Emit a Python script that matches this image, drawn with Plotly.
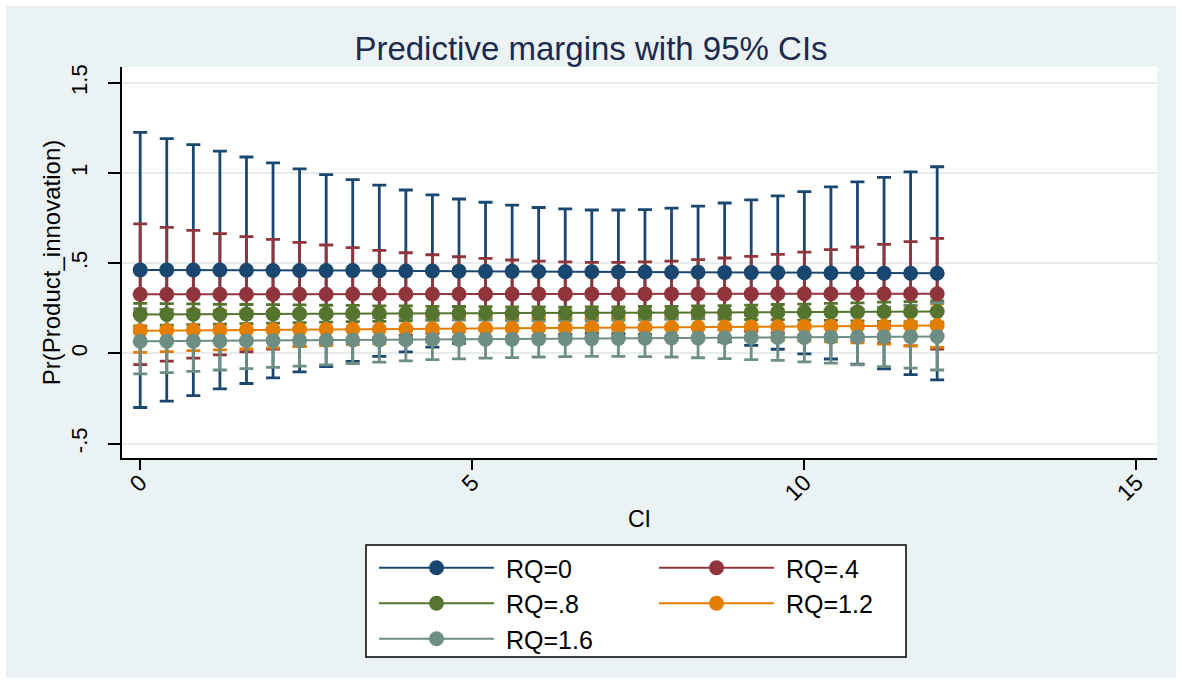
import plotly.graph_objects as go

# ---------------- data ----------------
ci = [0.0, 0.4, 0.8, 1.2, 1.6, 2.0, 2.4, 2.8, 3.2, 3.6, 4.0, 4.4, 4.8, 5.2, 5.6, 6.0,
      6.4, 6.8, 7.2, 7.6, 8.0, 8.4, 8.8, 9.2, 9.6, 10.0, 10.4, 10.8, 11.2, 11.6, 12.0]

series_names = ["RQ=0", "RQ=.4", "RQ=.8", "RQ=1.2", "RQ=1.6"]

margin_rq0 = [0.463, 0.463, 0.462, 0.462, 0.461, 0.460, 0.460, 0.459, 0.459, 0.458,
              0.457, 0.457, 0.456, 0.455, 0.455, 0.454, 0.453, 0.453, 0.452, 0.451,
              0.450, 0.450, 0.449, 0.448, 0.448, 0.447, 0.446, 0.446, 0.445, 0.444, 0.444]
upper_rq0 = [1.226, 1.191, 1.158, 1.121, 1.089, 1.056, 1.023, 0.991, 0.963, 0.933,
             0.906, 0.879, 0.856, 0.838, 0.822, 0.809, 0.801, 0.795, 0.795, 0.797,
             0.806, 0.817, 0.834, 0.851, 0.873, 0.897, 0.923, 0.951, 0.976, 1.006, 1.035]

margin_rq04 = [0.328, 0.328, 0.328, 0.328, 0.328, 0.328, 0.328, 0.328, 0.329, 0.329,
               0.329, 0.329, 0.329, 0.329, 0.329, 0.330, 0.330, 0.330, 0.330, 0.330,
               0.330, 0.330, 0.330, 0.330, 0.331, 0.331, 0.331, 0.331, 0.331, 0.331, 0.331]
upper_rq04 = [0.718, 0.699, 0.682, 0.664, 0.647, 0.632, 0.616, 0.601, 0.586, 0.571,
              0.558, 0.547, 0.536, 0.527, 0.518, 0.512, 0.507, 0.505, 0.505, 0.507,
              0.512, 0.520, 0.529, 0.538, 0.549, 0.562, 0.575, 0.590, 0.605, 0.620, 0.638]

margin_rq08 = [0.215, 0.216, 0.217, 0.217, 0.218, 0.219, 0.220, 0.220, 0.221, 0.221,
               0.222, 0.222, 0.223, 0.223, 0.223, 0.224, 0.224, 0.225, 0.225, 0.226,
               0.226, 0.227, 0.227, 0.228, 0.229, 0.229, 0.230, 0.230, 0.231, 0.231, 0.232]
upper_rq08 = [0.277, 0.276, 0.275, 0.272, 0.271, 0.270, 0.269, 0.267, 0.266, 0.264,
              0.263, 0.261, 0.260, 0.259, 0.258, 0.258, 0.257, 0.258, 0.258, 0.260,
              0.261, 0.263, 0.265, 0.268, 0.271, 0.273, 0.277, 0.280, 0.284, 0.287, 0.291]

margin_rq12 = [0.126, 0.127, 0.128, 0.129, 0.130, 0.131, 0.132, 0.133, 0.134, 0.134,
               0.135, 0.136, 0.137, 0.138, 0.139, 0.140, 0.141, 0.142, 0.143, 0.143,
               0.144, 0.145, 0.146, 0.147, 0.148, 0.149, 0.150, 0.151, 0.152, 0.153, 0.154]
upper_rq12 = [0.246, 0.244, 0.241, 0.238, 0.235, 0.231, 0.227, 0.223, 0.219, 0.214,
              0.210, 0.207, 0.204, 0.201, 0.199, 0.198, 0.198, 0.199, 0.201, 0.203,
              0.206, 0.210, 0.214, 0.219, 0.224, 0.229, 0.236, 0.244, 0.253, 0.264, 0.275]

margin_rq16 = [0.067, 0.068, 0.068, 0.069, 0.070, 0.071, 0.072, 0.073, 0.074, 0.075,
               0.076, 0.077, 0.078, 0.079, 0.079, 0.080, 0.081, 0.082, 0.083, 0.084,
               0.085, 0.086, 0.087, 0.088, 0.089, 0.089, 0.090, 0.091, 0.092, 0.093, 0.094]
upper_rq16 = [0.248, 0.243, 0.236, 0.230, 0.224, 0.220, 0.215, 0.210, 0.204, 0.198,
              0.193, 0.189, 0.186, 0.184, 0.181, 0.180, 0.180, 0.181, 0.183, 0.186,
              0.190, 0.196, 0.203, 0.210, 0.217, 0.225, 0.234, 0.245, 0.257, 0.268, 0.280]

x_ticks = [0, 5, 10, 15]
y_ticks = [-0.5, 0, 0.5, 1, 1.5]
y_ticktext = ["-.5", "0", ".5", "1", "1.5"]

margins = [margin_rq0, margin_rq04, margin_rq08, margin_rq12, margin_rq16]
uppers = [upper_rq0, upper_rq04, upper_rq08, upper_rq12, upper_rq16]
colors = ["#1A476F", "#90353B", "#55752F", "#E37E00", "#6E8E84"]
legend_ref = ["legend", "legend2", "legend", "legend2", "legend"]

FONT = "Liberation Sans, Arial, sans-serif"
BG = "#EAF2F3"

# ---------------- geometry (px) ----------------
W, H = 1182, 684
L, R, T, B = 122, 25, 67, 226
PW, PH = W - L - R, H - T - B


def px_x(p):
    return (p - L) / PW


def px_y(p):
    return (H - B - p) / PH


fig = go.Figure()

# confidence intervals first (drawn underneath)
for name, m, u, c in zip(series_names, margins, uppers, colors):
    err = [ui - mi for ui, mi in zip(u, m)]
    fig.add_trace(go.Scatter(
        x=ci, y=m, mode="markers", marker=dict(size=0.1, color="rgba(0,0,0,0)"),
        error_y=dict(type="data", array=err, symmetric=True, color=c,
                     thickness=2.8, width=7),
        showlegend=False, hoverinfo="skip"))

# connected margins
for name, m, c, lg in zip(series_names, margins, colors, legend_ref):
    fig.add_trace(go.Scatter(
        x=ci, y=m, mode="lines+markers", name=" " + name,
        line=dict(color=c, width=2),
        marker=dict(color=c, size=15, symbol="circle"),
        legend=lg))

# white outer border of the image
border = dict(type="rect", xref="paper", yref="paper", fillcolor="white",
              line=dict(width=0), layer="below")
fig.add_shape(**border, x0=px_x(-50), x1=px_x(6), y0=px_y(800), y1=px_y(-50))
fig.add_shape(**border, x0=px_x(1176), x1=px_x(1250), y0=px_y(800), y1=px_y(-50))
fig.add_shape(**border, x0=px_x(-50), x1=px_x(1250), y0=px_y(6), y1=px_y(-50))
fig.add_shape(**border, x0=px_x(-50), x1=px_x(1250), y0=px_y(800), y1=px_y(678))

# legend box
fig.add_shape(type="rect", xref="paper", yref="paper",
              x0=px_x(366), x1=px_x(906), y0=px_y(657), y1=px_y(545),
              fillcolor="white", line=dict(color="black", width=1.5), layer="below")

legend_common = dict(bgcolor="rgba(0,0,0,0)", borderwidth=0,
                     font=dict(family=FONT, size=25, color="black"),
                     itemwidth=115, tracegroupgap=0, orientation="v",
                     xanchor="left", yanchor="top", itemclick=False)

fig.update_layout(
    width=W, height=H,
    margin=dict(l=L, r=R, t=T, b=B, autoexpand=False),
    paper_bgcolor=BG, plot_bgcolor="white",
    font=dict(family=FONT, color="black"),
    title=dict(text="Predictive margins with 95% CIs", x=0.5, xref="container",
               xanchor="center", y=1 - 48 / H, yref="container", yanchor="middle",
               font=dict(family=FONT, size=33, color="#1C2A4E")),
    legend=dict(**legend_common, x=px_x(374), y=px_y(545)),
    legend2=dict(**legend_common, x=px_x(654), y=px_y(545)),
    xaxis=dict(range=[-0.274, 15.31], tickmode="array", tickvals=x_ticks,
               tickangle=-45, ticks="outside", ticklen=10, tickwidth=1.5,
               tickcolor="black", showline=True, linecolor="black", linewidth=2,
               showgrid=False, zeroline=False, automargin=False,
               ticklabelstandoff=-10,
               tickfont=dict(family=FONT, size=23, color="black"),
               title=dict(text="CI", font=dict(family=FONT, size=23, color="black"),
                          standoff=6)),
    yaxis=dict(range=[-0.580, 1.588], tickmode="array", tickvals=y_ticks,
               ticktext=y_ticktext, tickangle=-90, ticks="outside", ticklen=12,
               tickwidth=1.5, tickcolor="black", showline=True, linecolor="black",
               linewidth=2, showgrid=True, gridcolor="#E4ECEE", gridwidth=2,
               zeroline=False, automargin=False, ticklabelstandoff=12,
               tickfont=dict(family=FONT, size=22, color="black"),
               title=dict(text="Pr(Product_innovation)",
                          font=dict(family=FONT, size=24, color="black"),
                          standoff=0)),
)

fig.write_html("out.html")
